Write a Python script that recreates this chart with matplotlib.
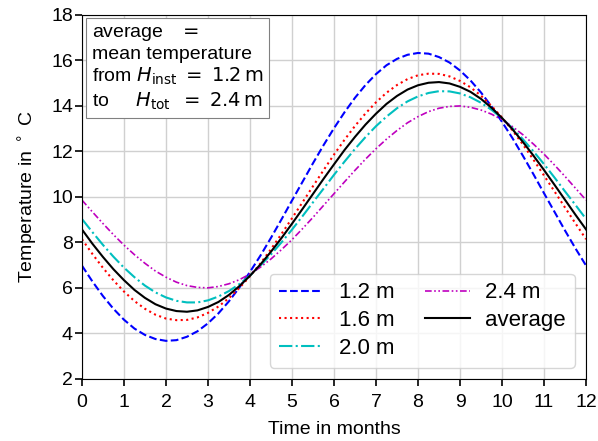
import numpy as np
import matplotlib
matplotlib.use('Agg')
import matplotlib.pyplot as plt

plt.rcParams['font.family'] = ['Liberation Sans', 'DejaVu Sans']

months = [0, 0.25, 0.5, 0.75, 1, 1.25, 1.5, 1.75, 2, 2.25, 2.5, 2.75, 3, 3.25,
          3.5, 3.75, 4, 4.25, 4.5, 4.75, 5, 5.25, 5.5, 5.75, 6, 6.25, 6.5, 6.75,
          7, 7.25, 7.5, 7.75, 8, 8.25, 8.5, 8.75, 9, 9.25, 9.5, 9.75, 10, 10.25,
          10.5, 10.75, 11, 11.25, 11.5, 11.75, 12]

t_12 = [6.98, 6.28, 5.64, 5.08, 4.60, 4.21, 3.93, 3.75, 3.67, 3.70, 3.85, 4.09,
        4.44, 4.88, 5.41, 6.02, 6.70, 7.42, 8.20, 9.01, 9.84, 10.66, 11.48, 12.27,
        13.02, 13.72, 14.36, 14.92, 15.40, 15.79, 16.07, 16.25, 16.33, 16.30,
        16.15, 15.91, 15.56, 15.12, 14.59, 13.98, 13.30, 12.58, 11.80, 10.99,
        10.16, 9.34, 8.52, 7.73, 6.98]
t_16 = [8.14, 7.49, 6.88, 6.33, 5.84, 5.42, 5.08, 4.82, 4.65, 4.58, 4.59, 4.70,
        4.90, 5.18, 5.55, 6.00, 6.51, 7.08, 7.70, 8.37, 9.06, 9.76, 10.47, 11.17,
        11.86, 12.51, 13.12, 13.67, 14.16, 14.58, 14.92, 15.18, 15.35, 15.42,
        15.41, 15.30, 15.10, 14.82, 14.45, 14.00, 13.49, 12.92, 12.30, 11.63,
        10.94, 10.24, 9.53, 8.83, 8.14]
t_20 = [9.03, 8.45, 7.89, 7.37, 6.89, 6.47, 6.10, 5.80, 5.58, 5.43, 5.36, 5.36,
        5.45, 5.62, 5.86, 6.17, 6.54, 6.98, 7.47, 8.00, 8.56, 9.15, 9.76, 10.36,
        10.97, 11.55, 12.11, 12.63, 13.11, 13.53, 13.90, 14.20, 14.42, 14.57,
        14.65, 14.64, 14.55, 14.38, 14.14, 13.83, 13.46, 13.02, 12.53, 12.00,
        11.44, 10.85, 10.24, 9.64, 9.03]
t_24 = [9.86, 9.34, 8.83, 8.34, 7.88, 7.46, 7.08, 6.74, 6.47, 6.25, 6.10, 6.02,
        6.00, 6.06, 6.18, 6.36, 6.61, 6.91, 7.27, 7.68, 8.12, 8.60, 9.10, 9.62,
        10.14, 10.66, 11.17, 11.66, 12.12, 12.54, 12.92, 13.26, 13.53, 13.75,
        13.90, 13.98, 14.00, 13.94, 13.82, 13.64, 13.39, 13.09, 12.73, 12.32,
        11.88, 11.40, 10.90, 10.38, 9.86]
t_avg = [8.57, 7.94, 7.36, 6.82, 6.34, 5.91, 5.56, 5.28, 5.09, 4.98, 4.95, 5.01,
         5.16, 5.38, 5.69, 6.08, 6.53, 7.03, 7.59, 8.19, 8.82, 9.47, 10.13, 10.79,
         11.43, 12.06, 12.64, 13.18, 13.66, 14.09, 14.44, 14.72, 14.91, 15.02,
         15.05, 14.99, 14.84, 14.62, 14.31, 13.92, 13.47, 12.97, 12.41, 11.81,
         11.18, 10.53, 9.87, 9.21, 8.57]

fs = 14
fig = plt.figure(figsize=(5.98, 4.41), dpi=100)
ax = fig.add_axes([0.137, 0.141, 0.843, 0.825])

ax.plot(months, t_12, 'b--', lw=1.5, label='1.2 m')
ax.plot(months, t_16, 'r:', lw=1.5, label='1.6 m')
ax.plot(months, t_20, 'c-.', lw=1.5, label='2.0 m')
ax.plot(months, t_24, color='m', lw=1.2, dashes=[4, 1.5, 1, 1.5, 1, 1.5], label='2.4 m')
ax.plot(months, t_avg, 'k-', lw=1.5, label='average')

ax.set_xlim(0, 12)
ax.set_ylim(2, 18)
ax.set_xticks(np.arange(0, 13, 1))
ax.set_yticks(np.arange(2, 19, 2))
ax.tick_params(labelsize=fs, length=5, width=1.2)
ax.tick_params(axis='x', pad=6)
ax.tick_params(axis='y', pad=1.5)
ax.grid(True, color='#d0d0d0', lw=1)
ax.set_axisbelow(True)
ax.set_xlabel('Time in months', fontsize=fs, labelpad=7)
ax.set_ylabel(r'Temperature in $^\circ$ C', fontsize=fs, labelpad=8)

ax.legend(loc='lower right', ncol=2, fontsize=16, handlelength=2.0,
          handletextpad=0.7, columnspacing=1.4, labelspacing=0.3)

txt = ('average   $=$\nmean temperature\n'
       r'from $H_\mathrm{inst}\;=\;1.2\,\mathrm{m}$' + '\n' +
       r'to     $H_\mathrm{tot}\;\;=\;2.4\,\mathrm{m}$')
ax.text(0.02, 0.975, txt, transform=ax.transAxes, fontsize=fs, va='top',
        ha='left', linespacing=1.2,
        bbox=dict(boxstyle='square,pad=0.3', fc='white', ec='gray', lw=0.8))

fig.savefig('out.png', dpi=100)
